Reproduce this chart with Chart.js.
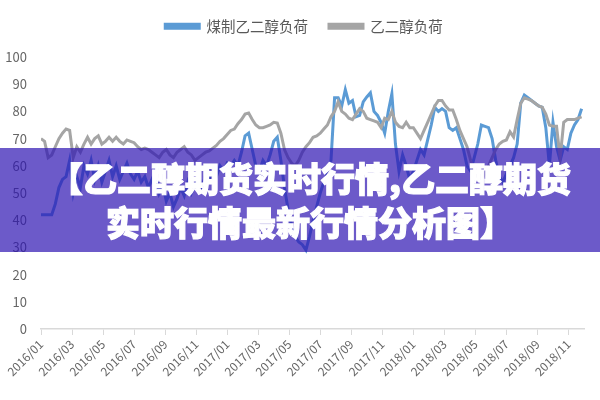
<!DOCTYPE html>
<html><head><meta charset="utf-8">
<script src="https://cdn.jsdelivr.net/npm/chart.js@4.4.1/dist/chart.umd.min.js"></script>
<style>
html,body{margin:0;padding:0;background:#fff;}
#wrap{position:relative;width:600px;height:400px;overflow:hidden;}
#c{position:absolute;left:0;top:0;}
#banner{position:absolute;left:0;top:148px;width:600px;height:104px;background:rgba(45,20,178,0.7);}
#banner .t{position:absolute;left:20px;width:580px;text-align:center;color:#fff;font-family:"Noto Sans CJK SC",sans-serif;font-weight:900;font-size:34px;line-height:44px;white-space:nowrap;-webkit-text-stroke:1.2px #fff;}
</style></head>
<body><div id="wrap"><canvas id="c" width="600" height="400"></canvas>
<div id="banner"><div class="t" style="top:8px">【乙二醇期货实时行情,乙二醇期货</div><div class="t" style="top:52px">实时行情最新行情分析图】</div></div></div>
<script>
// tick labels, every 2 months starting 2016/01
const tickLabels = ['2016/01','2016/03','2016/05','2016/07','2016/09','2016/11','2017/01','2017/03','2017/05','2017/07','2017/09','2017/11','2018/01','2018/03','2018/05','2018/07','2018/09','2018/11'];
const seriesNames = ['煤制乙二醇负荷','乙二醇负荷'];
// weekly values (%), 2016/01 .. 2018/12
const coalLoad = [
42,42,42,42,46,52,55,56,62,50,
56,52,60,57,62,55,60,54,58,62,
56,60,55,58,61,57,55,58,54,56,
52,55,58,50,53,47,50,45,48,52,
49,54,50,53,56,52,57,55,58,56,
60,58,61,60,62,60,65,71,72,66,
60,58,62,60,64,69,70.5,62,52,44,
38,34,32,31,29,34,40,45,50,54,
57,62,85,85,82,88,83,84,78,78.5,
83.5,85.3,86.8,80,78.5,76,72,80,86.5,68,
58,64,60,55,58,62,66,64,69.5,75,
81.5,80,81,80,74,73,74,70,66,60,
58,63,68,75,74.5,74,70,62,56,54,
57,60,63,68,83,86,85,84,83,82,
81.5,74,60,76,67,62,67,66,72,75,77,81
];
const megLoad = [
70,69,63,64,67,70,72,73.5,73,63,
67,65,68,70.5,68,70,71,68,69,70.5,
69,70.5,69,68,69.5,69,68.5,67,66,66.5,
66,65,64,63,65,66,64,63,65,66,
67,65,64,62,63,64,65,65.5,66.5,67.5,
69,70,71.5,73,73.5,75.5,77,79,79.4,77,
75,74,74,74.5,75,76,75.7,72,66,63,
61,60,62,65,67,68.5,70.5,71,72,73.5,
75,78,80,83.5,80,79,77.5,77,79,81,
80,77.5,77,76.5,76,74,77.5,77,80,76,
74.5,74,76,74,74,72,70,73,76,79,
82,84,84,82,80.5,80.5,77,73,70,67,
62,58,56,55,57,60,63,66,68,69,
69.5,72.5,70.6,77,83,85,84.5,84,83,82,
81.5,79,75,74.5,74.5,63,76,77,77,77,77.5,78
];
const monthsPerWeek = 12 / 52;
const toPoints = arr => arr.map((v, i) => ({x: i * monthsPerWeek, y: v}));

// legend: extra room below it, and centred over the plot like the original
const legendSpacer = {
  id: 'legendSpacer',
  beforeLayout(chart) {
    const lg = chart.legend;
    if (lg && !lg._spaced) {
      const f = lg.fit;
      lg.fit = function () { f.call(this); this.height = 59; };
      lg._spaced = true;
    }
  },
  afterLayout(chart) {
    const lg = chart.legend;
    if (lg) { lg.left = 8; lg.right = 600; lg.width = 592; }
  }
};

const font = '"Noto Sans CJK SC", "Open Sans", sans-serif';
new Chart(document.getElementById('c'), {
  type: 'line',
  data: {
    datasets: [
      {label: seriesNames[0], data: toPoints(coalLoad), borderColor: '#5b9bd5', backgroundColor: '#5b9bd5', borderWidth: 3, pointRadius: 0, tension: 0, order: 1},
      {label: seriesNames[1], data: toPoints(megLoad), borderColor: '#a5a5a5', backgroundColor: '#a5a5a5', borderWidth: 3, pointRadius: 0, tension: 0, order: 0}
    ]
  },
  options: {
    responsive: false,
    animation: false,
    devicePixelRatio: 1,
    layout: {padding: {top: -2, left: 0, right: 16, bottom: 0}},
    plugins: {
      tooltip: {enabled: false},
      legend: {
        position: 'top',
        labels: {
          boxWidth: 34, boxHeight: 4, padding: 21,
          color: '#595959', font: {family: font, size: 14.5},
          sort: (a, b) => a.datasetIndex - b.datasetIndex
        }
      }
    },
    scales: {
      x: {
        type: 'linear', min: 0, max: 35,
        afterFit: s => { s.height = 71; },
        border: {display: true, color: '#d9d9d9', width: 1.5},
        grid: {display: true, drawOnChartArea: false, drawTicks: true, tickLength: 6, color: '#d9d9d9'},
        ticks: {
          stepSize: 2, includeBounds: false, autoSkip: false,
          minRotation: 45, maxRotation: 45, padding: 2,
          color: '#666', font: {family: font, size: 12},
          callback: v => tickLabels[Math.round(v / 2)] || ''
        }
      },
      y: {
        min: 0, max: 100,
        afterFit: s => { s.width = 41; },
        border: {display: false},
        grid: {display: false, drawTicks: false, tickLength: 0},
        ticks: {stepSize: 10, padding: 14, color: '#666', font: {family: font, size: 13}}
      }
    }
  },
  plugins: [legendSpacer]
});
</script>
</body></html>
